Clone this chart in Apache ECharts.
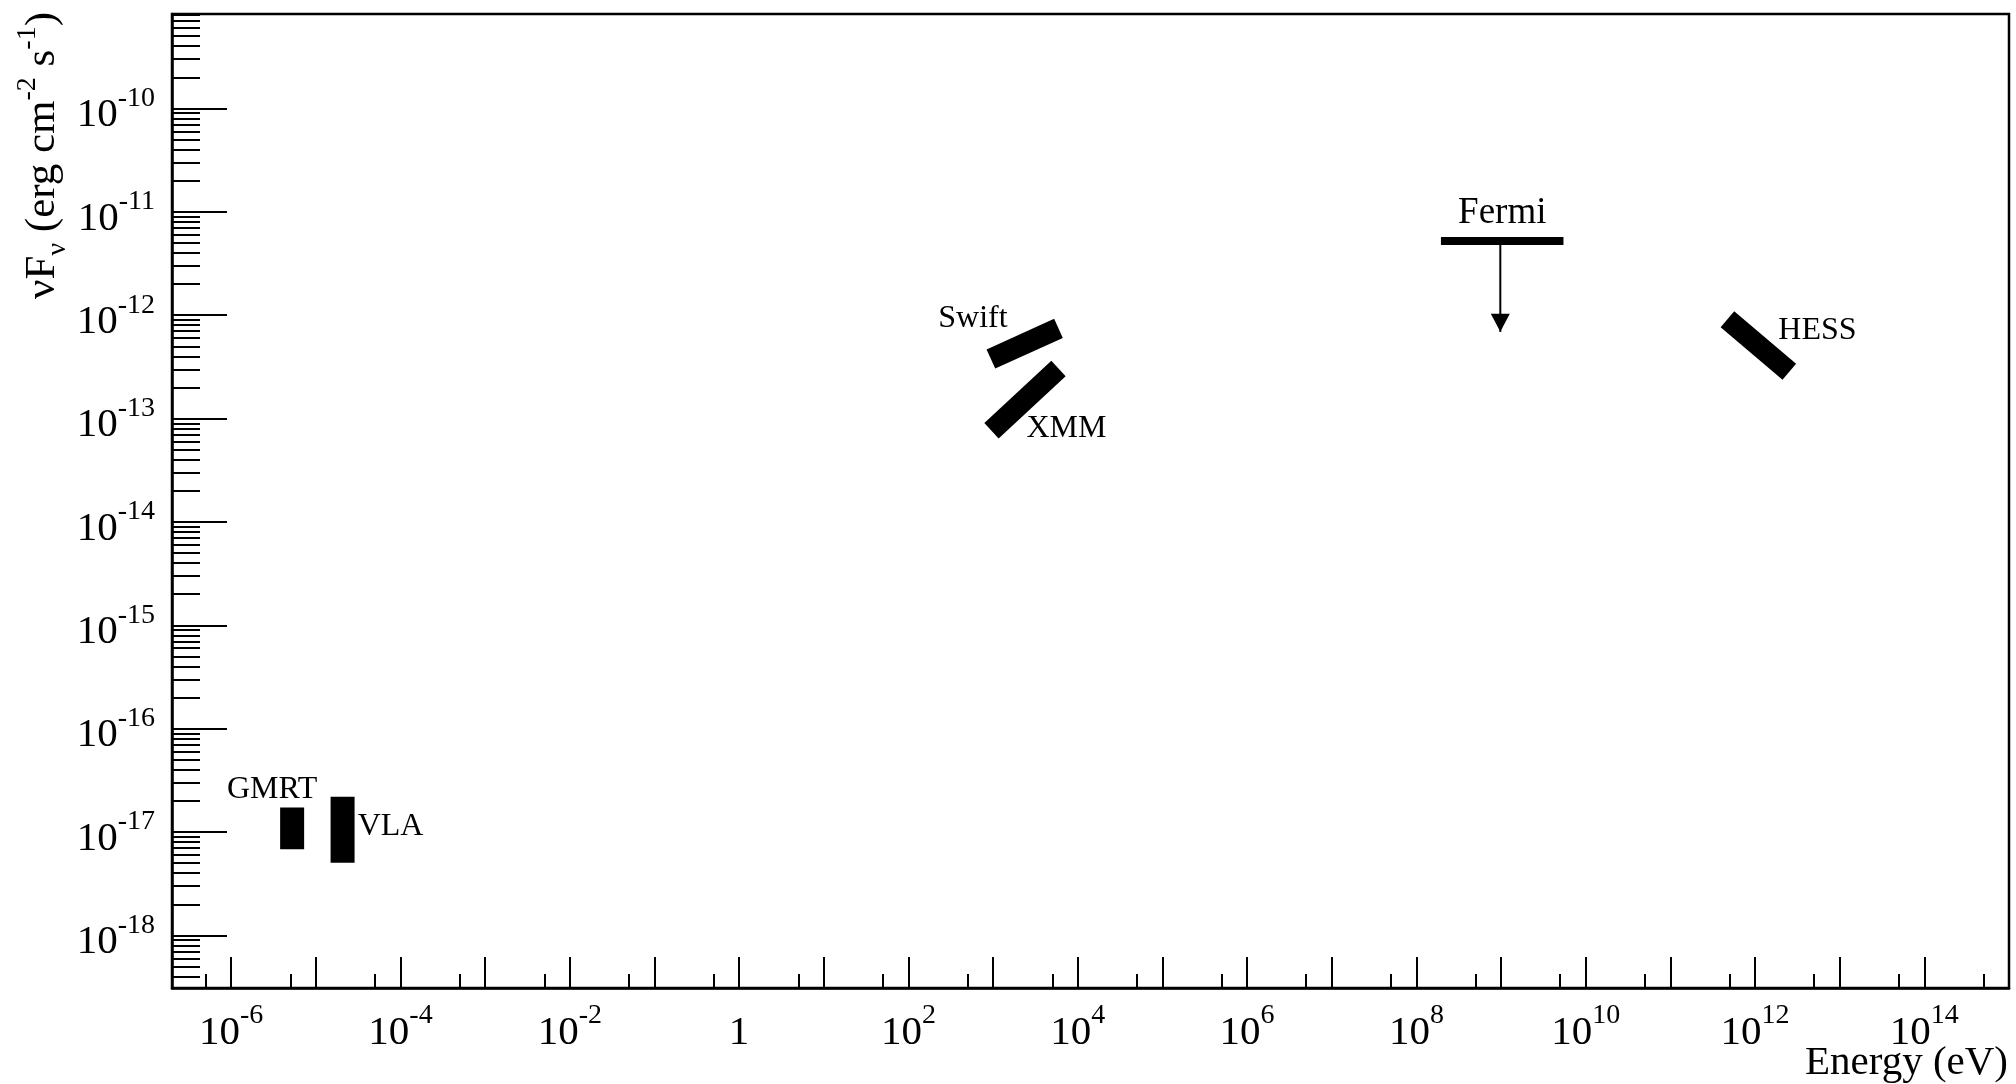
<!DOCTYPE html>
<html>
<head>
<meta charset="utf-8">
<script src="https://cdn.jsdelivr.net/npm/echarts@6/dist/echarts.min.js"></script>
<style>
  html, body { margin: 0; padding: 0; background: #fff; }
  #chart { width: 2016px; height: 1084px; }
</style>
</head>
<body>
<div id="chart"></div>
<script>
// Axis ranges: photon energy (eV) and energy flux nuF_nu (erg cm^-2 s^-1)
const energyRange = [2e-7, 1e15];
const fluxRange = [3.1e-19, 8.2e-10];

// Tick positions
const energyDecades = [1e-6, 1e-5, 1e-4, 1e-3, 1e-2, 1e-1, 1, 1e1, 1e2, 1e3, 1e4, 1e5, 1e6, 1e7,
                       1e8, 1e9, 1e10, 1e11, 1e12, 1e13, 1e14];
const energyLabelled = [1e-6, 1e-4, 1e-2, 1, 1e2, 1e4, 1e6, 1e8, 1e10, 1e12, 1e14];
const energyMinor = [5e-7, 5e-6, 5e-5, 5e-4, 5e-3, 5e-2, 5e-1, 5, 5e1, 5e2, 5e3, 5e4, 5e5, 5e6,
                     5e7, 5e8, 5e9, 5e10, 5e11, 5e12, 5e13, 5e14];
const fluxDecades = [1e-18, 1e-17, 1e-16, 1e-15, 1e-14, 1e-13, 1e-12, 1e-11, 1e-10];
const fluxMinorBases = [1e-19, 1e-18, 1e-17, 1e-16, 1e-15, 1e-14, 1e-13, 1e-12, 1e-11, 1e-10];
const fluxMantissas = [2, 3, 4, 5, 6, 7, 8, 9];

// Instrument bands: [energy (eV), flux] end points
const gmrtPoints  = [[5.25e-6, 1.73e-17], [5.25e-6, 6.8e-18]];
const vlaPoints   = [[2.07e-5, 2.19e-17], [2.07e-5, 5.04e-18]];
const swiftPoints = [[942, 3.77e-13], [5.92e3, 7.46e-13]];
const xmmPoints   = [[957, 7.62e-14], [5.92e3, 3.05e-13]];
const fermiBand   = [[1.95e8, 5.23e-12], [5.46e9, 5.23e-12]];
const fermiArrow  = [[9.8e8, 5.23e-12], [9.8e8, 6.9e-13]];
const hessPoints  = [[4.72e11, 9.12e-13], [2.54e12, 2.83e-13]];

const SERIF = "'Liberation Serif', 'Times New Roman', serif";

const fluxMinor = [];
fluxMinorBases.forEach(function (d) {
  fluxMantissas.forEach(function (m) {
    const v = m * d;
    if (v >= fluxRange[0] && v <= fluxRange[1]) fluxMinor.push(v);
  });
});

function powerLabel(v) {
  const e = Math.round(Math.log10(v));
  return e === 0 ? '{b|1}' : '{b|10}{s|' + e + '}';
}

const powerRich = {
  b: { fontFamily: SERIF, fontSize: 41, lineHeight: 62, color: '#000' },
  s: { fontFamily: SERIF, fontSize: 28, lineHeight: 28, verticalAlign: 'top', color: '#000' }
};

// A thick band drawn as a two-point line; one end carries the instrument name
function band(name, points, width, labelAt, labelOffset, fontSize) {
  return {
    name: name,
    type: 'line',
    xAxisIndex: 0,
    yAxisIndex: 0,
    silent: true,
    symbol: 'circle',
    symbolSize: 2,
    showSymbol: true,
    itemStyle: { color: 'rgba(0,0,0,0)' },
    lineStyle: { color: '#000', width: width, cap: 'butt' },
    label: { show: false },
    z: 3,
    data: points.map(function (p, i) {
      const item = { value: p };
      if (i === labelAt) {
        item.label = {
          show: true, formatter: name, position: 'inside', offset: labelOffset,
          color: '#000', fontFamily: SERIF, fontSize: fontSize || 32
        };
      }
      return item;
    })
  };
}

const chart = echarts.init(document.getElementById('chart'), null, { renderer: 'canvas' });

const option = {
  animation: false,
  backgroundColor: '#fff',
  grid: {
    left: 172, top: 14, right: 7, bottom: 96,
    containLabel: false, outerBoundsMode: 'none',
    show: true, borderColor: '#000', borderWidth: 2.5, backgroundColor: 'transparent'
  },
  xAxis: [
    {
      type: 'log', position: 'bottom', min: energyRange[0], max: energyRange[1],
      axisLine: { show: true, lineStyle: { color: '#000', width: 2.5 } },
      axisTick: { show: true, inside: true, length: 31, customValues: energyDecades,
                  lineStyle: { color: '#000', width: 2 } },
      axisLabel: { show: true, margin: 14, customValues: energyLabelled,
                   formatter: powerLabel, rich: powerRich },
      splitLine: { show: false }
    },
    {
      type: 'log', position: 'bottom', min: energyRange[0], max: energyRange[1],
      axisLine: { show: false },
      axisTick: { show: true, inside: true, length: 14, customValues: energyMinor,
                  lineStyle: { color: '#000', width: 2 } },
      axisLabel: { show: false },
      splitLine: { show: false }
    }
  ],
  yAxis: [
    {
      type: 'log', position: 'left', min: fluxRange[0], max: fluxRange[1],
      axisLine: { show: true, lineStyle: { color: '#000', width: 2.5 } },
      axisTick: { show: true, inside: true, length: 55, customValues: fluxDecades,
                  lineStyle: { color: '#000', width: 2 } },
      axisLabel: { show: true, margin: 17, customValues: fluxDecades, padding: [14, 0, 0, 0],
                   formatter: powerLabel, rich: powerRich },
      splitLine: { show: false }
    },
    {
      type: 'log', position: 'left', min: fluxRange[0], max: fluxRange[1],
      axisLine: { show: false },
      axisTick: { show: true, inside: true, length: 28, customValues: fluxMinor,
                  lineStyle: { color: '#000', width: 2 } },
      axisLabel: { show: false },
      splitLine: { show: false }
    }
  ],
  graphic: [
    {
      // vertical axis title
      type: 'text',
      x: 43, y: 12,
      rotation: Math.PI / 2,
      silent: true,
      style: {
        text: '{b|νF}{sub|ν}{b| (erg cm}{sup|-2}{b| s}{sup|-1}{b|)}',
        align: 'right',
        verticalAlign: 'middle',
        fill: '#000',
        rich: {
          b: { fontFamily: SERIF, fontSize: 43, lineHeight: 58, fill: '#000' },
          sup: { fontFamily: SERIF, fontSize: 28, lineHeight: 29, verticalAlign: 'top', fill: '#000' },
          sub: { fontFamily: SERIF, fontSize: 28, lineHeight: 29, verticalAlign: 'bottom', fill: '#000' }
        }
      }
    },
    {
      // horizontal axis title
      type: 'text',
      x: 2008, y: 1063,
      silent: true,
      style: {
        text: 'Energy (eV)',
        align: 'right',
        verticalAlign: 'middle',
        fill: '#000',
        fontFamily: SERIF,
        fontSize: 41
      }
    }
  ],
  series: [
    band('GMRT', gmrtPoints, 24, 0, [-20, -18]),
    band('VLA', vlaPoints, 24, 0, [48, 30]),
    band('Swift', swiftPoints, 21, 0, [-18, -40]),
    band('XMM', xmmPoints, 21, 0, [75, -2]),
    band('HESS', hessPoints, 21, 0, [90, 11]),
    {
      name: 'Fermi band',
      type: 'line',
      silent: true,
      symbol: 'none',
      lineStyle: { color: '#000', width: 8, cap: 'butt' },
      z: 3,
      data: fermiBand
    },
    {
      name: 'Fermi',
      type: 'line',
      silent: true,
      showSymbol: true,
      lineStyle: { color: '#000', width: 2 },
      label: { show: false },
      z: 3,
      data: [
        {
          value: fermiArrow[0], symbol: 'circle', symbolSize: 2,
          itemStyle: { color: 'rgba(0,0,0,0)' },
          label: { show: true, formatter: 'Fermi', position: 'inside', offset: [2, -28],
                   color: '#000', fontFamily: SERIF, fontSize: 37 }
        },
        {
          value: fermiArrow[1], symbol: 'triangle', symbolSize: [19, 18],
          symbolRotate: 180, symbolOffset: [0, -9],
          itemStyle: { color: '#000' }
        }
      ]
    }
  ]
};

chart.setOption(option);
</script>
</body>
</html>
